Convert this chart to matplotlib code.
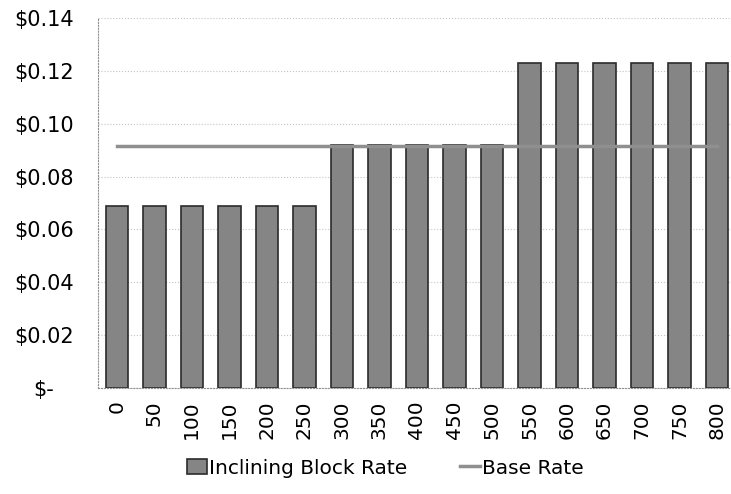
import numpy as np
import matplotlib.pyplot as plt
from matplotlib.ticker import FixedLocator

usage = ['0', '50', '100', '150', '200', '250', '300', '350', '400', '450',
         '500', '550', '600', '650', '700', '750', '800']
block_rate = [0.069, 0.069, 0.069, 0.069, 0.069, 0.069,
              0.092, 0.092, 0.092, 0.092, 0.092,
              0.123, 0.123, 0.123, 0.123, 0.123, 0.123]
base_rate = [0.0915] * 17
yticks = [0.0, 0.02, 0.04, 0.06, 0.08, 0.10, 0.12, 0.14]
ylabels = ['$-', '$0.02', '$0.04', '$0.06', '$0.08', '$0.10', '$0.12', '$0.14']

plt.rcParams['font.family'] = 'DejaVu Sans'
fig = plt.figure(figsize=(7.31, 4.94), dpi=100)
ax = fig.add_axes([98/731, 1 - 388/494, (731 - 98)/731, 370/494])

x = np.arange(len(usage))
bars = ax.bar(x, block_rate, width=0.6, color='#858585', edgecolor='#2b2b2b',
              linewidth=1.2, label='Inclining Block Rate', zorder=2)
line, = ax.plot(x, base_rate, color='#8f8f8f', linewidth=2.5,
                label='Base Rate', zorder=3)

ax.set_xlim(-0.5, 16.37)
ax.set_ylim(0, 0.14)
ax.yaxis.set_major_locator(FixedLocator(yticks))
ax.set_yticklabels(ylabels, fontsize=15, ha='center')
ax.tick_params(axis='y', length=0, pad=39)
ax.set_xticks(x)
ax.set_xticklabels(usage, rotation=90, fontsize=14.5)
ax.tick_params(axis='x', length=0, pad=9)

ax.grid(axis='y', linestyle=':', color='#c4c4c4', linewidth=0.8, zorder=0)
for s in ['top', 'right']:
    ax.spines[s].set_visible(False)
for s in ['left', 'bottom']:
    ax.spines[s].set_linestyle(':')
    ax.spines[s].set_color('#909090')

fig.legend([bars, line], ['Inclining Block Rate', 'Base Rate'],
           loc='center', bbox_to_anchor=(0.527, 1 - 468/494), ncol=2,
           frameon=False, fontsize=14.5, handlelength=1.0, handleheight=0.8,
           handletextpad=0.1, columnspacing=2.6)

fig.savefig('out.png', dpi=100)
